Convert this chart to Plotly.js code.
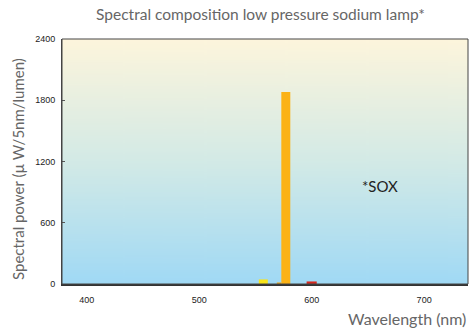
<!DOCTYPE html>
<html>
<head>
<meta charset="utf-8">
<script src="https://cdn.plot.ly/plotly-3.0.1.min.js"></script>
<style>
  html, body { margin: 0; padding: 0; background: #ffffff; }
  #chart { width: 471px; height: 329px; }
</style>
</head>
<body>
<div id="chart"></div>
<script>
// Data
const wavelengths = [557, 571, 577, 600];
const power = [45, 15, 1880, 25];
const barColors = ['#f8e41a', '#f0a81a', '#fbb216', '#d8281e'];
const barWidths = [8, 4, 8, 9];
const yTicks = [0, 600, 1200, 1800, 2400];
const xTicks = [400, 500, 600, 700];

// Background gradient image for plot area
const cv = document.createElement('canvas');
cv.width = 10; cv.height = 256;
const ctx = cv.getContext('2d');
const g = ctx.createLinearGradient(0, 0, 0, 256);
g.addColorStop(0, '#fdf5dc');
g.addColorStop(0.5, '#d3eae6');
g.addColorStop(1, '#a0d9f5');
ctx.fillStyle = g;
ctx.fillRect(0, 0, 10, 256);
const bgImg = cv.toDataURL('image/png');

const traces = wavelengths.map((w, i) => ({
  type: 'bar',
  x: [w],
  y: [power[i]],
  width: [barWidths[i]],
  marker: { color: barColors[i], line: { width: 0 } },
  hoverinfo: 'x+y',
  showlegend: false
}));

const layout = {
  width: 471,
  height: 329,
  margin: { l: 62, r: 3, t: 39, b: 45 },
  paper_bgcolor: '#ffffff',
  plot_bgcolor: 'rgba(0,0,0,0)',
  barmode: 'overlay',
  title: {
    text: 'Spectral composition low pressure sodium lamp*',
    font: { family: 'Lato, sans-serif', size: 15.5, color: '#666666' },
    x: 0.553, xanchor: 'center', y: 0.955, yanchor: 'middle'
  },
  xaxis: {
    range: [378, 739],
    tickvals: xTicks,
    ticktext: xTicks.map(String),
    showgrid: false,
    zeroline: false,
    showline: true,
    linecolor: '#333333',
    linewidth: 2,
    ticks: '',
    ticklabelstandoff: 6,
    tickfont: { family: 'Liberation Sans, Arial, sans-serif', size: 9, color: '#222222' }
  },
  yaxis: {
    range: [0, 2400],
    tickvals: yTicks,
    ticktext: yTicks.map(String),
    showgrid: false,
    zeroline: false,
    showline: true,
    linecolor: '#444444',
    linewidth: 1,
    ticks: 'inside',
    ticklen: 3,
    tickcolor: '#555555',
    ticklabelstandoff: 4,
    tickfont: { family: 'Liberation Sans, Arial, sans-serif', size: 9, color: '#222222' }
  },
  images: [{
    source: bgImg,
    xref: 'paper', yref: 'paper',
    x: 0, y: 1, sizex: 1, sizey: 1,
    sizing: 'stretch',
    layer: 'below'
  }],
  shapes: [{
    type: 'rect', xref: 'paper', yref: 'paper',
    x0: 0, x1: 1, y0: 0, y1: 1,
    line: { color: '#444444', width: 1 }
  }],
  annotations: [
    {
      text: '*SOX', x: 661, y: 960, xref: 'x', yref: 'y',
      showarrow: false,
      font: { family: 'Lato, sans-serif', size: 15, color: '#222222' }
    },
    {
      text: 'Wavelength (nm)', x: 1, y: -0.14, xref: 'paper', yref: 'paper',
      xanchor: 'right', yanchor: 'middle', showarrow: false,
      font: { family: 'Lato, sans-serif', size: 16, color: '#666666' }
    },
    {
      text: 'Spectral power (\u00b5 W/5nm/lumen)', x: -0.108, y: 0.47,
      xref: 'paper', yref: 'paper', xanchor: 'center', yanchor: 'middle',
      textangle: -90, showarrow: false,
      font: { family: 'Lato, sans-serif', size: 15, color: '#666666' }
    }
  ]
};

Plotly.newPlot('chart', traces, layout, { displayModeBar: false, staticPlot: true });
</script>
</body>
</html>
